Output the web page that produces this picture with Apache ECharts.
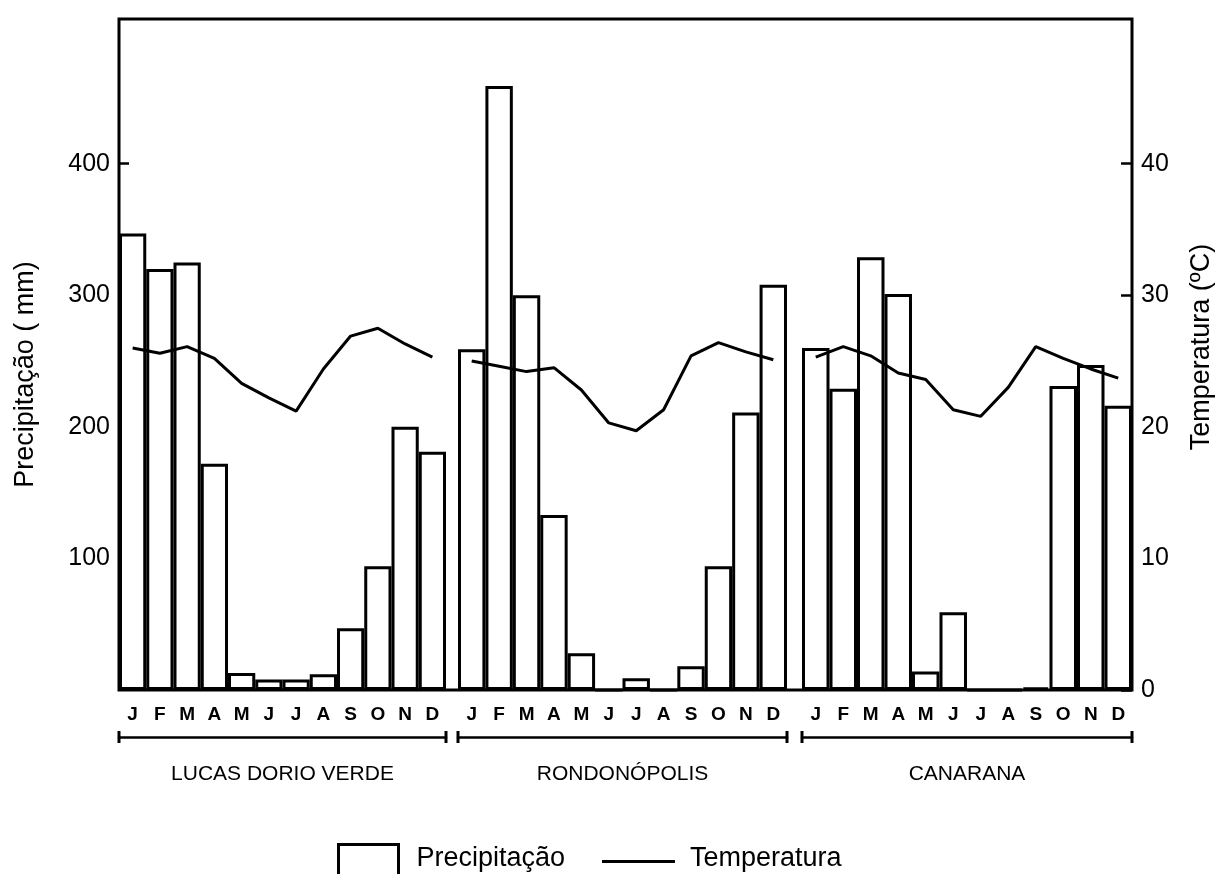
<!DOCTYPE html>
<html>
<head>
<meta charset="utf-8">
<title>Precipitação e Temperatura</title>
<script src="https://cdn.jsdelivr.net/npm/echarts@6.0.0/dist/echarts.min.js"></script>
<style>
  html, body { margin: 0; padding: 0; background: #fff; }
  #chart-panel { width: 1221px; height: 874px; }
</style>
</head>
<body>
<div id="chart-panel"></div>
<script>
// dados
const months = ["J", "F", "M", "A", "M", "J", "J", "A", "S", "O", "N", "D"];
const cities = ["LUCAS DORIO VERDE", "RONDONÓPOLIS", "CANARANA"];

const lucasPrec = [347, 320, 325, 172, 13, 8, 8, 12, 47, 94, 200, 181];
const rondPrec = [259, 459, 300, 133, 28, 0, 9, 0, 18, 94, 211, 308];
const canPrec = [260, 229, 329, 301, 14, 59, 0, 0, 2, 231, 247, 216];

const lucasTemp = [26.0, 25.6, 26.1, 25.2, 23.3, 22.2, 21.2, 24.4, 26.9, 27.5, 26.3, 25.3];
const rondTemp = [25.0, 24.6, 24.2, 24.5, 22.8, 20.3, 19.7, 21.3, 25.4, 26.4, 25.7, 25.1];
const canTemp = [25.3, 26.1, 25.4, 24.1, 23.6, 21.3, 20.8, 23.0, 26.1, 25.2, 24.4, 23.7];

const precTicks = [100, 200, 300, 400];
const tempTicks = [0, 10, 20, 30, 40];

const precData = [lucasPrec, rondPrec, canPrec];
const tempData = [lucasTemp, rondTemp, canTemp];

const PREC_MAX = 510;
const TEMP_MAX = 51;
const font = "Liberation Sans, Arial, Helvetica, sans-serif";

// grid 0 = moldura com os eixos; grids 1..3 = uma cidade cada
const grids = [
  { left: 119, top: 19, width: 1013, height: 671, show: true, borderColor: "#000", borderWidth: 3, backgroundColor: "transparent", outerBoundsMode: "none" },
  { left: 119, top: 19, width: 327, height: 671, outerBoundsMode: "none" },
  { left: 458, top: 19, width: 329, height: 671, outerBoundsMode: "none" },
  { left: 802, top: 19, width: 330, height: 671, outerBoundsMode: "none" },
];

let xAxes = [{ gridIndex: 0, type: "value", show: false }];
let yAxes = [
  {
    gridIndex: 0,
    type: "value",
    position: "left",
    min: 0,
    max: PREC_MAX,
    name: "Precipitação ( mm)",
    nameLocation: "middle",
    nameGap: 80,
    nameRotate: 90,
    nameTextStyle: { fontSize: 27, color: "#000", fontFamily: font, padding: [0, 40, 0, 0] },
    axisLine: { show: false },
    axisTick: { show: true, inside: true, length: 10, lineStyle: { color: "#000", width: 2.5 }, customValues: precTicks },
    axisLabel: { fontSize: 25, color: "#000", fontFamily: font, margin: 9, customValues: precTicks },
    splitLine: { show: false },
  },
  {
    gridIndex: 0,
    type: "value",
    position: "right",
    min: 0,
    max: TEMP_MAX,
    name: "Temperatura (ºC)",
    nameLocation: "middle",
    nameGap: 56,
    nameRotate: 90,
    nameTextStyle: { fontSize: 27, color: "#000", fontFamily: font, padding: [0, 0, 0, 15] },
    axisLine: { show: false },
    axisTick: { show: true, inside: true, length: 11, lineStyle: { color: "#000", width: 2.5 }, customValues: tempTicks },
    axisLabel: { fontSize: 25, color: "#000", fontFamily: font, margin: 9, customValues: tempTicks },
    splitLine: { show: false },
  },
];

let barSeries = [];
let lineSeries = [];

for (let i = 0; i < 3; i++) {
  let g = i + 1;
  // meses
  xAxes.push({
    gridIndex: g,
    type: "category",
    data: months,
    boundaryGap: true,
    axisLine: { show: false },
    axisTick: { show: false },
    axisLabel: { interval: 0, fontSize: 19, fontWeight: "bold", color: "#000", fontFamily: font, margin: 15 },
  });
  // precipitação / temperatura escondidos, mesma escala dos eixos da moldura
  yAxes.push({ gridIndex: g, type: "value", min: 0, max: PREC_MAX, show: false });
  yAxes.push({ gridIndex: g, type: "value", min: 0, max: TEMP_MAX, show: false });
}

for (let i = 0; i < 3; i++) {
  let g = i + 1;
  // colchete com o nome da cidade
  xAxes.push({
    gridIndex: g,
    type: "category",
    data: [cities[i]],
    position: "bottom",
    offset: 47,
    axisLine: {
      show: true,
      onZero: false,
      symbol: ["rect", "rect"],
      symbolSize: [12, 3],
      lineStyle: { color: "#000", width: 2.5 },
    },
    axisTick: { show: false },
    axisLabel: { interval: 0, fontSize: 21, color: "#000", fontFamily: font, margin: 27 },
  });
}

for (let i = 0; i < 3; i++) {
  barSeries.push({
    name: "Precipitação",
    type: "bar",
    xAxisIndex: i + 1,
    yAxisIndex: 2 + i * 2,
    data: precData[i],
    barCategoryGap: "0%",
    itemStyle: { color: "#fff", borderColor: "#000", borderWidth: 3 },
    emphasis: { disabled: true },
  });
  lineSeries.push({
    name: "Temperatura",
    type: "line",
    xAxisIndex: i + 1,
    yAxisIndex: 3 + i * 2,
    data: tempData[i],
    symbol: "none",
    lineStyle: { color: "#000", width: 3 },
    itemStyle: { color: "#000" },
    z: 5,
  });
}

// texto da legenda um pouco acima do centro do ícone
function legendText(padLeft) {
  return {
    fontSize: 27,
    color: "#000",
    fontFamily: font,
    rich: { t: { fontSize: 27, color: "#000", fontFamily: font, padding: [0, 0, 6, padLeft] } },
  };
}

let chartPanel = echarts.init(document.getElementById("chart-panel"), null, { renderer: "canvas" });

let option = {
  backgroundColor: "#fff",
  animation: false,
  textStyle: { fontFamily: font, color: "#000" },
  legend: [
    {
      data: ["Precipitação"],
      left: 332,
      top: 838,
      itemWidth: 60,
      itemHeight: 34,
      icon: "rect",
      itemStyle: { color: "#fff", borderColor: "#000", borderWidth: 3 },
      formatter: "{t|{name}}",
      textStyle: legendText(13),
      selectedMode: false,
    },
    {
      data: ["Temperatura"],
      left: 597,
      top: 840,
      itemWidth: 73,
      itemHeight: 3,
      icon: "rect",
      itemStyle: { color: "#000", borderWidth: 0 },
      formatter: "{t|{name}}",
      textStyle: legendText(10),
      selectedMode: false,
    },
  ],
  grid: grids,
  xAxis: xAxes,
  yAxis: yAxes,
  series: barSeries.concat(lineSeries),
};

chartPanel.setOption(option);
</script>
</body>
</html>
